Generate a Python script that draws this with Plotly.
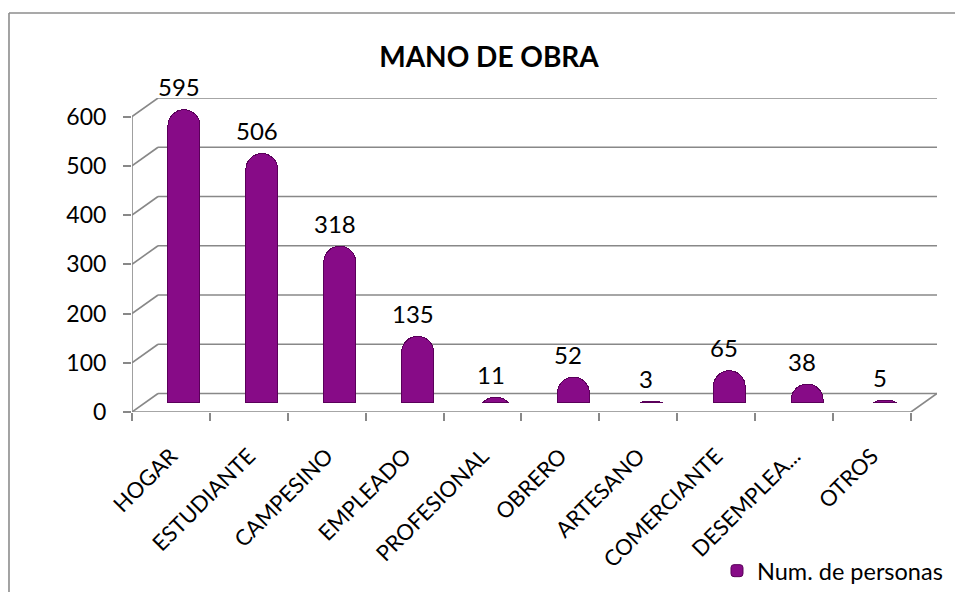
import plotly.graph_objects as go

# ---- data ----
categories = ["HOGAR", "ESTUDIANTE", "CAMPESINO", "EMPLEADO", "PROFESIONAL",
              "OBRERO", "ARTESANO", "COMERCIANTE", "DESEMPLEA...", "OTROS"]
values = [595, 506, 318, 135, 11, 52, 3, 65, 38, 5]
y_ticks = [0, 100, 200, 300, 400, 500, 600]
series_name = "Num. de personas"
title_text = "MANO DE OBRA"

# ---- styling / pseudo-3D geometry ----
FONT = "Lato, Open Sans, sans-serif"
BAR_COLOR = "#870b87"
BAR_EDGE = "#5a005a"
GRID = "#888888"
DX = 0.334          # depth offset in category units
DY = 37.6           # depth offset in value units
YMAX = y_ticks[-1]
n = len(categories)
xpos = [i + DX / 2 for i in range(n)]

fig = go.Figure()

# invisible lift so bars stand at mid-depth of the floor
fig.add_trace(go.Bar(
    x=xpos, y=[DY / 2] * n, width=0.41,
    marker=dict(color="rgba(0,0,0,0)", line=dict(width=0)),
    showlegend=False, hoverinfo="skip",
))
fig.add_trace(go.Bar(
    x=xpos, y=values, width=0.41,
    name=series_name,
    marker=dict(color=BAR_COLOR, line=dict(color=BAR_EDGE, width=1)),
    showlegend=True,
))

shapes = []
line_style = dict(color=GRID, width=1.6)
for v in y_ticks:
    shapes.append(dict(type="line", xref="x", yref="y", layer="below",
                       x0=-0.5 + DX, x1=n - 0.5 + DX, y0=v + DY, y1=v + DY, line=line_style))
    shapes.append(dict(type="line", xref="x", yref="y", layer="below",
                       x0=-0.5, x1=-0.5 + DX, y0=v, y1=v + DY, line=line_style))
shapes.append(dict(type="line", xref="x", yref="y", layer="below",
                   x0=n - 0.5, x1=n - 0.5 + DX, y0=0, y1=DY, line=line_style))
shapes.append(dict(type="line", xref="x", yref="y", layer="below",
                   x0=-0.5, x1=-0.5, y0=0, y1=YMAX, line=line_style))
shapes.append(dict(type="line", xref="x", yref="y", layer="below",
                   x0=-0.5, x1=n - 0.5, y0=0, y1=0, line=line_style))
# chart-area border: left and top edges only (right/bottom run off the canvas)
border = dict(color="#8c8c8c", width=1.6)
shapes.append(dict(type="line", xref="paper", yref="paper", layer="below",
                   x0=-0.1528, x1=-0.1528, y0=-1.0, y1=1.2707, line=border))
shapes.append(dict(type="line", xref="paper", yref="paper", layer="below",
                   x0=-0.1528, x1=1.6, y0=1.2707, y1=1.2707, line=border))

annotations = []
for i, v in enumerate(values):
    annotations.append(dict(x=xpos[i], y=v + DY / 2, xref="x", yref="y",
                            text=str(v), showarrow=False, yshift=23, xshift=-5,
                            font=dict(family=FONT, size=24, color="#000000")))

fig.update_layout(
    width=955, height=592,
    margin=dict(l=132, r=18, t=98, b=180, pad=0, autoexpand=False),
    paper_bgcolor="white", plot_bgcolor="white",
    font=dict(family=FONT, color="#000000"),
    title=dict(text=f"<b>{title_text}</b>", x=0.4435, xref="paper", xanchor="center",
               y=1 - 57 / 592, yref="container", yanchor="middle",
               font=dict(family=FONT, size=28, color="#000000")),
    barmode="stack", barcornerradius="50%",
    xaxis=dict(range=[-0.5, n - 0.5 + DX], tickmode="array",
               tickvals=list(range(n)), ticktext=categories, automargin=False,
               tickangle=-45, ticks="", showgrid=False, zeroline=False, showline=False,
               tickfont=dict(family=FONT, size=22),
               ticklabelstandoff=26,
               minor=dict(tickmode="array", tickvals=[i - 0.5 for i in range(n + 1)],
                          ticks="outside", ticklen=8, tickwidth=1.6, tickcolor=GRID,
                          showgrid=False)),
    yaxis=dict(range=[0, YMAX + DY], tickmode="array", tickvals=y_ticks, automargin=False,
               ticks="outside", ticklen=8, tickwidth=1.6, tickcolor=GRID,
               showgrid=False, zeroline=False, showline=False,
               tickfont=dict(family=FONT, size=23), ticklabelstandoff=12),
    shapes=shapes,
    annotations=annotations,
    legend=dict(x=0.7267, xanchor="left", y=-0.506, yanchor="middle",
                font=dict(family=FONT, size=23.5), bgcolor="rgba(0,0,0,0)"),
)

fig.write_html("out.html",
               config={"displayModeBar": False},
               post_script="document.body.style.margin='0';"
                           "document.documentElement.style.overflow='hidden';"
                           "document.body.style.overflow='hidden';")
